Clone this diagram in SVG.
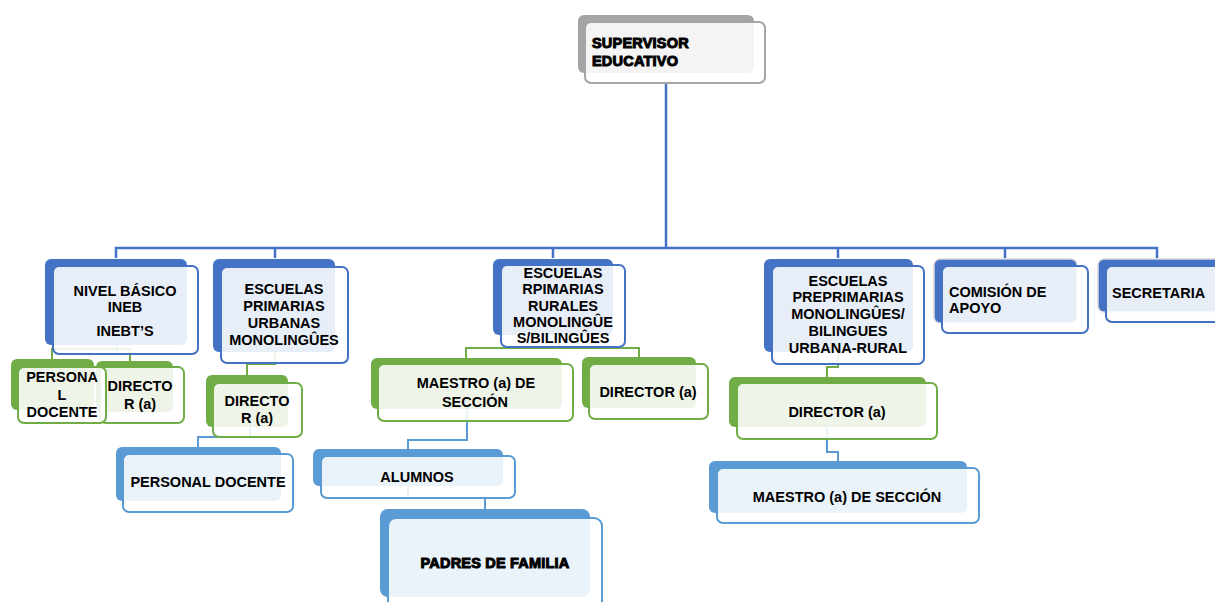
<svg xmlns="http://www.w3.org/2000/svg" width="1215" height="602" viewBox="0 0 1215 602">
<style>
text{font-family:"Liberation Sans",Arial,sans-serif;font-weight:bold;font-size:14.5px;fill:#000}
.c{text-anchor:middle}
.heavy{stroke:#000;stroke-width:1;letter-spacing:0.2px}
.bk{fill:#4472C4}
.gk{fill:#70AD47}
.lk{fill:#5B9BD5}
.yk{fill:#A5A5A5}
.fr{fill:#fff;fill-opacity:0.88;stroke-width:2}
.bf{stroke:#4472C4}
.gf{stroke:#70AD47}
.lf{stroke:#5B9BD5}
.yf{stroke:#A5A5A5}
.cb{fill:none;stroke:#4472C4;stroke-width:2.5}
.cg{fill:none;stroke:#70AD47;stroke-width:2}
.cl{fill:none;stroke:#5B9BD5;stroke-width:2}
</style>
<rect width="1215" height="602" fill="#fff"/>
<g id="connectors">
<path class="cb" d="M666,83 V248 M116,258 V248 H1157 V258 M275,248 V258 M553,248 V258 M838,248 V258 M1005,248 V258"/>
<path class="cg" d="M117,345 V349 M52,360 V349 H130 V361"/>
<path class="cg" d="M275,352 V364 H247 V375"/>
<path class="cg" d="M559,340 V348 M466,358 V348 H639 V357"/>
<path class="cg" d="M838,352 V367 H827 V377"/>
<path class="cl" d="M250,427 V437 H198 V447"/>
<path class="cl" d="M467,409 V440 H408 V449"/>
<path class="cl" d="M408,486 V498 H485 V509"/>
<path class="cl" d="M827,427 V452 H838 V461"/>
</g>
<g id="supervisor">
<rect class="yk" x="578" y="15" width="176" height="58" rx="6"/>
<rect class="fr yf" x="585" y="22" width="180" height="61" rx="6"/>
<text class="heavy" x="592" y="48">SUPERVISOR</text>
<text class="heavy" x="592" y="66">EDUCATIVO</text>
</g>
<g id="nivel-basico">
<rect class="bk" x="45" y="259" width="142" height="86" rx="6"/>
<rect class="fr bf" x="53" y="266" width="145" height="88" rx="6"/>
<text class="c" x="125" y="296">NIVEL BÁSICO</text>
<text class="c" x="125" y="312">INEB</text>
<text class="c" x="125" y="336">INEBT’S</text>
</g>
<g id="primarias-urbanas">
<rect class="bk" x="213" y="259" width="122" height="93" rx="6"/>
<rect class="fr bf" x="221" y="267" width="127" height="96" rx="6"/>
<text class="c" x="284" y="294">ESCUELAS</text>
<text class="c" x="284" y="311">PRIMARIAS</text>
<text class="c" x="284" y="328">URBANAS</text>
<text class="c" x="284" y="345">MONOLINGÛES</text>
</g>
<g id="primarias-rurales">
<rect class="bk" x="493" y="259" width="120" height="76" rx="6"/>
<rect class="fr bf" x="501" y="265" width="124" height="82" rx="6"/>
<text class="c" x="563" y="278">ESCUELAS</text>
<text class="c" x="563" y="294">RPIMARIAS</text>
<text class="c" x="563" y="311">RURALES</text>
<text class="c" x="563" y="327">MONOLINGÛE</text>
<text class="c" x="563" y="343">S/BILINGÛES</text>
</g>
<g id="preprimarias">
<rect class="bk" x="764" y="259" width="149" height="93" rx="6"/>
<rect class="fr bf" x="772" y="266" width="152" height="98" rx="6"/>
<text class="c" x="848" y="286">ESCUELAS</text>
<text class="c" x="848" y="302">PREPRIMARIAS</text>
<text class="c" x="848" y="319">MONOLINGÛES/</text>
<text class="c" x="848" y="336">BILINGUES</text>
<text class="c" x="848" y="353">URBANA-RURAL</text>
</g>
<g id="comision">
<rect class="bk" x="934" y="259" width="143" height="64" rx="6" stroke="#D9D9D9" stroke-width="1.5"/>
<rect class="fr bf" x="942" y="266" width="146" height="67" rx="6"/>
<text x="949" y="297">COMISIÓN DE</text>
<text x="949" y="313">APOYO</text>
</g>
<g id="secretaria">
<rect class="bk" x="1098" y="259" width="130" height="53" rx="6" stroke="#D9D9D9" stroke-width="1.5"/>
<rect class="fr bf" x="1106" y="266" width="120" height="56" rx="6"/>
<text x="1112" y="298">SECRETARIA</text>
</g>
<g id="director-ineb">
<rect class="gk" x="96" y="361" width="77" height="51" rx="6"/>
<rect class="fr gf" x="100" y="367" width="84" height="56" rx="6"/>
<text class="c" x="140" y="391">DIRECTO</text>
<text class="c" x="140" y="409">R (a)</text>
</g>
<g id="personal-ineb">
<rect class="gk" x="11" y="359" width="83" height="51" rx="6"/>
<rect class="fr gf" x="18" y="367" width="88" height="56" rx="6"/>
<text class="c" x="62" y="382">PERSONA</text>
<text class="c" x="62" y="400">L</text>
<text class="c" x="62" y="417">DOCENTE</text>
</g>
<g id="director-urbanas">
<rect class="gk" x="206" y="375" width="82" height="52" rx="6"/>
<rect class="fr gf" x="213" y="383" width="89" height="54" rx="6"/>
<text class="c" x="257" y="406">DIRECTO</text>
<text class="c" x="257" y="423">R (a)</text>
</g>
<g id="maestro-rurales">
<rect class="gk" x="371" y="358" width="191" height="51" rx="6"/>
<rect class="fr gf" x="378" y="364" width="195" height="57" rx="6"/>
<text class="c" x="476" y="388">MAESTRO (a) DE</text>
<text class="c" x="475" y="407">SECCIÓN</text>
</g>
<g id="director-rurales">
<rect class="gk" x="582" y="357" width="114" height="51" rx="6"/>
<rect class="fr gf" x="589" y="364" width="119" height="55" rx="6"/>
<text class="c" x="648" y="397">DIRECTOR (a)</text>
</g>
<g id="director-preprimarias">
<rect class="gk" x="729" y="377" width="197" height="50" rx="6"/>
<rect class="fr gf" x="737" y="383" width="200" height="56" rx="6"/>
<text class="c" x="837" y="417">DIRECTOR (a)</text>
</g>
<g id="personal-docente">
<rect class="lk" x="116" y="447" width="165" height="54" rx="6"/>
<rect class="fr lf" x="123" y="454" width="170" height="58" rx="6"/>
<text class="c" x="208" y="487">PERSONAL DOCENTE</text>
</g>
<g id="alumnos">
<rect class="lk" x="313" y="449" width="190" height="37" rx="6"/>
<rect class="fr lf" x="321" y="456" width="194" height="42" rx="6"/>
<text class="c" x="417" y="482">ALUMNOS</text>
</g>
<g id="padres">
<rect class="lk" x="380" y="509" width="210" height="88" rx="8"/>
<rect class="fr lf" x="388" y="518" width="214" height="92" rx="8"/>
<text class="c heavy" x="495" y="568">PADRES DE FAMILIA</text>
</g>
<g id="maestro-preprimarias">
<rect class="lk" x="709" y="461" width="258" height="52" rx="6"/>
<rect class="fr lf" x="717" y="468" width="262" height="55" rx="6"/>
<text class="c" x="847" y="502">MAESTRO (a) DE SECCIÓN</text>
</g>
</svg>
